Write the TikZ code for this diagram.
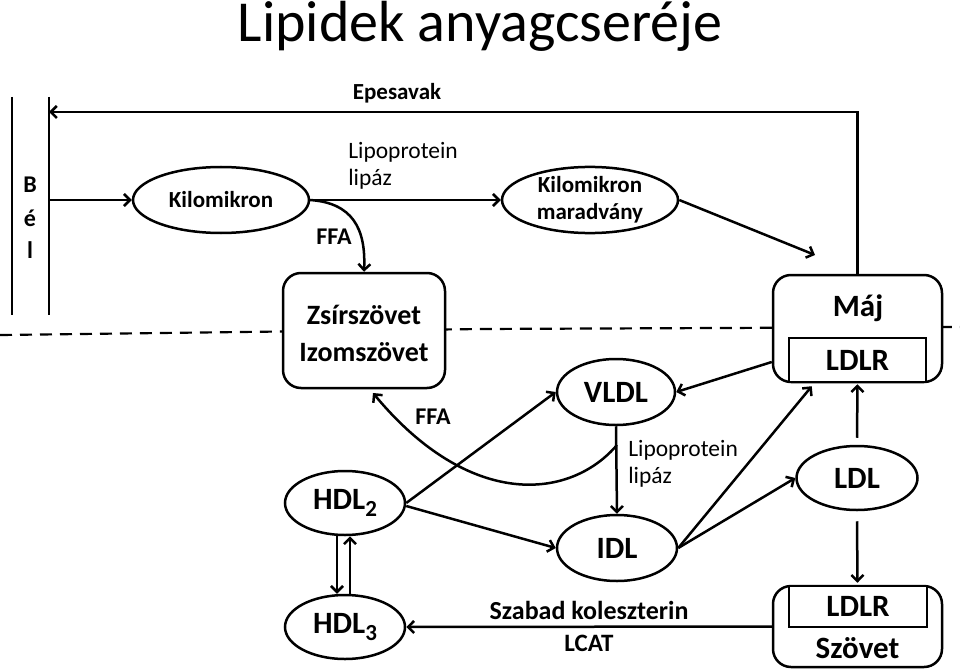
\documentclass[tikz,border=0pt]{standalone}
\usepackage{fontspec}
\setmainfont{Carlito}
\usetikzlibrary{shapes.geometric,arrows.meta}
\begin{document}
\begin{tikzpicture}[x=1pt,y=-1pt,line width=2.5pt,
  >={Straight Barb[length=6pt,width=12pt]},
  ell/.style={draw,ellipse,inner sep=0pt,font=\bfseries\fontsize{31}{34}\selectfont},
  sell/.style={draw,ellipse,inner sep=0pt,align=center,font=\bfseries\fontsize{23}{27}\selectfont},
  rbox/.style={draw,rounded corners=18pt,inner sep=0pt,fill=white},
  ibox/.style={draw,inner sep=0pt,fill=white},
  big/.style={font=\bfseries\fontsize{31}{37}\selectfont},
  lbl/.style={font=\bfseries\fontsize{24}{27}\selectfont,inner sep=0pt},
  reg/.style={font=\fontsize{23.5}{27}\selectfont,inner sep=0pt,align=left},
  dashline/.style={line width=2.2pt,dash pattern=on 12pt off 8pt}
]
\useasboundingbox (0,0) rectangle (960,671);
\fill[white] (0,0) rectangle (960,671);

% title
\node[font=\fontsize{58}{62}\selectfont,inner sep=0pt,anchor=base] (title) at (480,42) {Lipidek anyagcseréje};

% dashed boundary
\draw[dashline] (0,335) -- (480,329) -- (960,327);

% gut bars
\coordinate (b1t) at (12,97); \coordinate (b1b) at (12,315);
\coordinate (b2t) at (49,97); \coordinate (b2b) at (49,315);
\draw[line width=2.7pt] (b1t) -- (b1b);
\draw[line width=2.7pt] (b2t) -- (b2b);
\node[lbl] (gB) at (30,185) {B};
\node[lbl] (gE) at (30,218) {é};
\node[lbl] (gL) at (30,250) {l};

% nodes
\node[sell,minimum width=176pt,minimum height=66pt] (kilo) at (221,200) {Kilomikron};
\node[sell,minimum width=176pt,minimum height=66pt] (rem) at (590,200) {Kilomikron\\maradvány};
\node[rbox,minimum width=162pt,minimum height=115pt] (zsir) at (364,330.5) {};
\node[font=\bfseries\fontsize{28}{37}\selectfont,align=center,inner sep=0pt] (zsirt) at (364,333) {Zsírszövet\\Izomszövet};

\node[rbox,minimum width=169pt,minimum height=107pt] (maj) at (857.5,328.5) {};
\node[big,inner sep=0pt] (majt) at (858,308) {Máj};
\node[ibox,minimum width=137pt,minimum height=44pt,big] (ldlr1) at (857.5,360) {LDLR};

\node[rbox,minimum width=169pt,minimum height=81pt] (szov) at (857.5,626.5) {};
\node[ibox,minimum width=138pt,minimum height=41pt,big] (ldlr2) at (858,606.5) {LDLR};
\node[big,inner sep=0pt] (szovt) at (857.5,648) {Szövet};

\node[ell,minimum width=118pt,minimum height=66pt] (vldl) at (616,392) {VLDL};
\node[ell,minimum width=120pt,minimum height=66pt] (idl) at (617,548) {IDL};
\node[ell,minimum width=121pt,minimum height=64pt] (ldl) at (857,478) {LDL};
\node[ell,minimum width=120pt,minimum height=64pt] (hdl2) at (345,503) {HDL\raisebox{-7pt}{\fontsize{23}{23}\selectfont 2}};
\node[ell,minimum width=120pt,minimum height=64pt] (hdl3) at (345,627) {HDL\raisebox{-7pt}{\fontsize{23}{23}\selectfont 3}};

% labels
\node[lbl,font=\bfseries\fontsize{23}{27}\selectfont] (epel) at (397,93) {Epesavak};
\node[reg,anchor=west] (lpl1) at (347,166) {Lipoprotein\\lipáz};
\node[lbl] (ffa1) at (334,237) {FFA};
\node[lbl] (ffa2) at (433,417) {FFA};
\node[reg,anchor=west] (lpl2) at (627,464) {Lipoprotein\\lipáz};
\node[lbl,font=\bfseries\fontsize{26}{28}\selectfont] (szab) at (589,610) {Szabad koleszterin};
\node[lbl,font=\bfseries\fontsize{25}{28}\selectfont] (lcat) at (589,643) {LCAT};

% connectors
\coordinate (epe) at (49,112);
\draw[->] (maj.north) |- (epe);
\coordinate (gutout) at (49,200);
\draw[->] (gutout) -- (kilo.west);
\draw[->] (kilo.east) -- (rem.west);
\draw[->] (kilo.east) .. controls (352,203) and (366,228) .. (zsir.north);
\coordinate (remend) at (815,255);
\draw[->] (rem.east) -- (remend);
\draw[->] ([yshift=-33.5pt]maj.west) -- (vldl.east);
\draw[->] (vldl.south) -- (idl.north);
\coordinate (ffa2s) at (617,445);
\coordinate (ffa2e) at (373,393);
\draw[->] (ffa2s) .. controls (570,500) and (470,510) .. (ffa2e);
\draw[->] (hdl2.east) -- (vldl.west);
\draw[->] ([yshift=-3pt]hdl2.east) -- (idl.west);
\draw[->] (idl.east) -- ([xshift=24pt,yshift=-3pt]ldlr1.south west);
\draw[->] (idl.east) -- (ldl.west);
\draw[->] ([yshift=7pt]ldl.north) -- ([yshift=-1pt]ldlr1.south);
\draw[->] ([yshift=-10pt]ldl.south) -- ([yshift=2pt]szov.north);
\draw[->] ([xshift=-8pt]hdl2.south) -- ([xshift=-8pt]hdl3.north);
\draw[->] ([xshift=5pt]hdl3.north) -- ([xshift=5pt]hdl2.south);
\draw[->] (szov.west) -- (hdl3.east);
\end{tikzpicture}
\end{document}
